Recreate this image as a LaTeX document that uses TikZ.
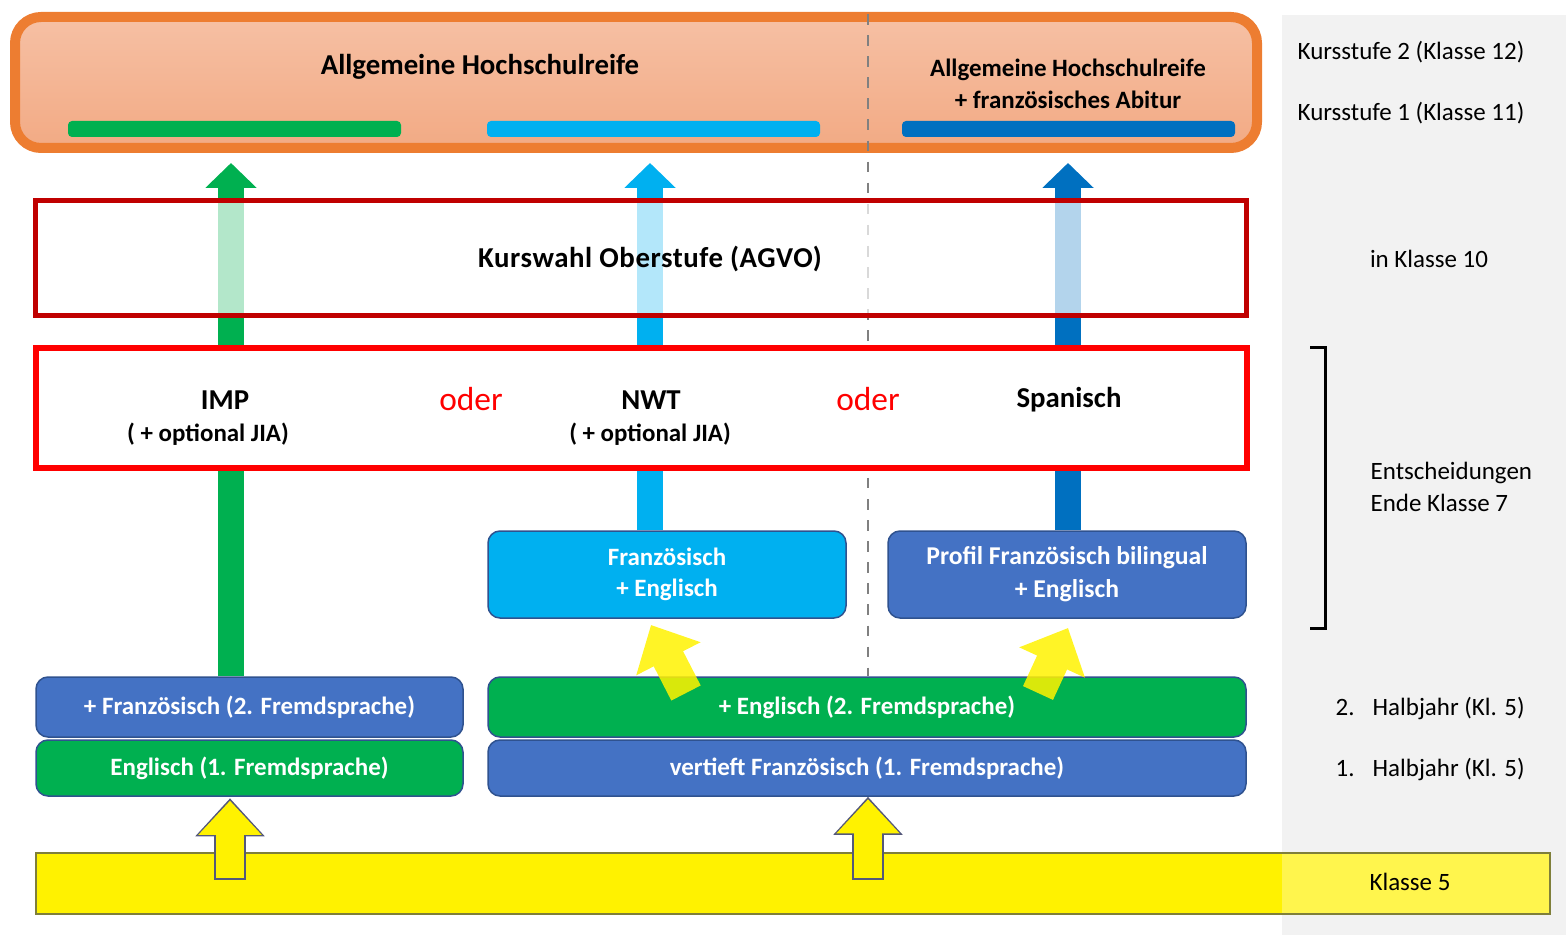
\documentclass[tikz,border=0pt]{standalone}
\usepackage{fontspec}
\setmainfont{Carlito}
\usetikzlibrary{arrows.meta}

\definecolor{abiedge}{HTML}{ED7D31}
\definecolor{abitop}{HTML}{F6C0A4}
\definecolor{abibot}{HTML}{F2AA84}
\definecolor{grn}{HTML}{00B050}
\definecolor{ltblue}{HTML}{00B0F0}
\definecolor{midblue}{HTML}{4472C4}
\definecolor{dkblue}{HTML}{0070C0}
\definecolor{boxedge}{HTML}{2F528F}
\definecolor{dkred}{HTML}{C00000}
\definecolor{panel}{HTML}{F2F2F2}
\definecolor{bandedge}{HTML}{7F7F3A}
\definecolor{arrowedge}{HTML}{54587A}

\begin{document}
\begin{tikzpicture}[x=0.1mm,y=-0.1mm,
  every node/.style={inner sep=0pt, font=\bfseries\fontsize{7.1}{9}\selectfont},
  sz/.style 2 args={minimum width=#1*0.1mm, minimum height=#2*0.1mm},
  box/.style={draw=boxedge, line width=0.15mm, rounded corners=1.2mm, text=white, align=center},
  bar/.style={rounded corners=0.4mm},
  big/.style={font=\bfseries\fontsize{8.2}{10}\selectfont},
  side/.style={font=\fontsize{7.1}{9.1}\selectfont, align=left},
  oder/.style={text=red, font=\fontsize{9.5}{11}\selectfont},
  shaft/.style={line width=2.6mm, -{Triangle[width=5mm,length=2.5mm]}},
  yellowedge/.style={draw=arrowedge, line width=3.2mm, shorten <=-0.15mm, -{Triangle[width=6.7mm,length=3.8mm]}},
  yellowfill/.style={draw=yellow, line width=2.8mm, -{Triangle[width=6.1mm,length=3.4mm]}},
  yellowdiag/.style={draw=yellow, line width=3.3mm, -{Triangle[width=7mm,length=3.8mm]}}]
  \useasboundingbox (0,0) rectangle (1566,935);

  % grey column on the right
  \fill[panel] (1282,15) rectangle (1566,935);

  % language boxes
  \node[box, sz={358}{87}, fill=ltblue] (fe) at (667,574.5) {Französisch\\+ Englisch};
  \node[box, sz={358}{87}, fill=midblue, font=\bfseries\fontsize{7.3}{9.4}\selectfont] (profil) at (1067,574.5) {Profil Französisch bilingual\\+ Englisch};
  \node[box, sz={427}{60}, fill=midblue] (fr2) at (249.5,707) {+ Französisch (2. Fremdsprache)};
  \node[box, sz={427}{56}, fill=grn] (en1) at (249.5,768) {Englisch (1. Fremdsprache)};
  \node[box, sz={758}{60}, fill=grn] (en2) at (867,707) {+ Englisch (2. Fremdsprache)};
  \node[box, sz={758}{56}, fill=midblue] (fr1) at (867,768) {vertieft Französisch (1. Fremdsprache)};

  % Abitur
  \node[sz={1242}{131}, draw=abiedge, line width=1mm, rounded corners=2.6mm,
        top color=abitop, bottom color=abibot] (abi) at (636,82.5) {};
  \node[bar, sz={333}{16}, fill=grn] (gbar) at (234.5,129) {};
  \node[bar, sz={333}{16}, fill=ltblue] (lbar) at (653.5,129) {};
  \node[bar, sz={333}{16}, fill=dkblue] (dbar) at (1068.5,129) {};
  \node[big] (ahr) at (480,67) {Allgemeine Hochschulreife};
  \node[align=center, font=\bfseries\fontsize{7.1}{9.2}\selectfont] (ahrf) at (1068,84) {Allgemeine Hochschulreife\\+ französisches Abitur};

  \coordinate (dtop) at (868,14);
  \draw[gray, dashed, line width=0.15mm] (dtop) -- (dtop |- en2.north);

  % paths upward
  \coordinate (gtip) at (231,163);
  \coordinate (ltip) at (650,163);
  \coordinate (dtip) at (1068,163);
  \draw[shaft, grn] (fr2.north -| gtip) -- (gtip);
  \draw[shaft, ltblue] (fe.north -| ltip) -- (ltip);
  \draw[shaft, dkblue] (profil.north -| dtip) -- (dtip);

  % course choice
  \node[sz={1211}{115}, draw=dkred, line width=0.5mm, fill=white, fill opacity=0.7] (agvo) at (641,258) {};
  \node[big] (kw) at (650,259) {\addfontfeature{LetterSpace=2}Kurswahl Oberstufe (AGVO)};

  % decisions
  \node[sz={1211}{120}, draw=red, line width=0.6mm, fill=white] (wahl) at (641,408.5) {};
  \node[big] (imp) at (225,400) {IMP};
  \node (jia1) at (208,434) {( + optional JIA)};
  \node[oder] (oder1) at (471,399) {oder};
  \node[big] (nwt) at (651,400) {NWT};
  \node (jia2) at (650,434) {( + optional JIA)};
  \node[oder] (oder2) at (868,399) {oder};
  \node[big] (span) at (1069,400) {Spanisch};

  % change of profile
  \coordinate (s1) at (686,693);
  \coordinate (e1) at (651,625);
  \coordinate (s2) at (1038,693);
  \coordinate (e2) at (1068,628);
  \begin{scope}[transparency group, opacity=0.85]
    \draw[yellowdiag] (s1) -- (e1);
    \draw[yellowdiag] (s2) -- (e2);
  \end{scope}

  % Klasse 5
  \node[sz={1514}{61}, fill=yellow, draw=bandedge, line width=0.2mm] (band) at (793,883.5) {};
  \fill[white, opacity=0.3] (1282,854) rectangle (1549,913);
  \coordinate (ya) at (230,878);
  \coordinate (yb) at (868,878);
  \draw[yellowedge, shorten >=0.15mm] (ya) -- (ya |- en1.south);
  \draw[yellowfill, shorten >=0.4mm] (ya) -- (ya |- en1.south);
  \draw[yellowedge, shorten >=0.0mm] (yb) -- (yb |- fr1.south);
  \draw[yellowfill, shorten >=0.25mm] (yb) -- (yb |- fr1.south);

  % timeline
  \node[side] (k12) at (1411,52) {Kursstufe 2 (Klasse 12)};
  \node[side] (k11) at (1411,113) {Kursstufe 1 (Klasse 11)};
  \node[side] (k10) at (1429,259) {in Klasse 10};
  \node[side, anchor=west] (k7) at (1370,487) {Entscheidungen\\Ende Klasse 7};
  \node[side, anchor=west] (hj2) at (1335,709) {\makebox[3.7mm][l]{2.}Halbjahr (Kl. 5)};
  \node[side, anchor=west] (hj1) at (1335,770) {\makebox[3.7mm][l]{1.}Halbjahr (Kl. 5)};
  \node[side] (k5) at (1410,882) {Klasse 5};
  \draw[line width=0.3mm] (1310,348) -- (1325,348) -- (1325,628) -- (1310,628);
\end{tikzpicture}
\end{document}
